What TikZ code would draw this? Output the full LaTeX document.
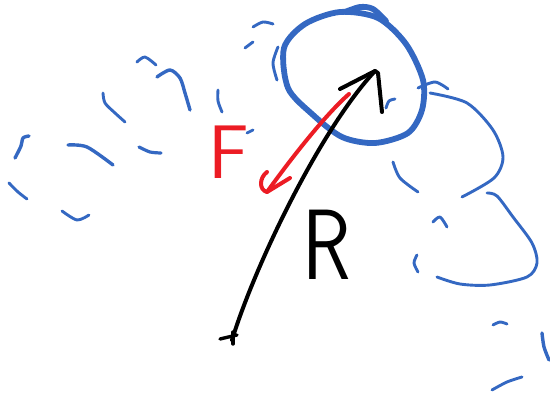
\documentclass[tikz,border=0pt]{standalone}
\usepackage{fontspec}
\definecolor{skblue}{RGB}{52,104,194}
\definecolor{skred}{RGB}{236,28,36}
\begin{document}
\begin{tikzpicture}[x=1pt,y=-1pt,
  bl/.style={draw=skblue,line width=2.9pt,line cap=round,line join=round},
  blthick/.style={bl,line width=5.8pt},
  rd/.style={draw=skred,line width=4pt,line cap=round,line join=round},
  bk/.style={draw=black,line width=4pt,line cap=round,line join=round},
  lettr/.style={inner sep=0pt,font=\sffamily\fontsize{#1}{#1}\selectfont}]
\useasboundingbox (0,0) rectangle (550,395);
% ---- scattered blue strokes (left cloud)
\draw[bl] plot[smooth] coordinates {(253,27) (263,22) (273,24)};
\draw[bl] (245,48) -- (253,42);
\draw[bl] plot[smooth] coordinates {(278,47) (273,63) (277,80)};
\draw[bl] plot[smooth] coordinates {(137,62) (145,57) (156,65)};
\draw[bl,line width=3.4pt] plot[smooth] coordinates {(157,77) (170,70) (180,78) (185,93) (190,110)};
\draw[bl] plot[smooth] coordinates {(218,90) (218,101) (222,112)};
\draw[bl] plot[smooth] coordinates {(103,93) (105,103) (115,113) (125,122)};
\draw[bl,line width=3.4pt] plot[smooth] coordinates {(68,145) (87,147) (113,165)};
\draw[bl,line width=3.2pt] plot[smooth] coordinates {(139,147) (150,152) (161,153)};
\draw[bl,line width=3.4pt] plot[smooth] coordinates {(15,158) (21,146) (23,138) (29,136)};
\draw[bl] plot[smooth] coordinates {(9,183) (18,192) (27,199)};
\draw[bl] plot[smooth] coordinates {(62,211) (77,220) (89,215)};
\draw[bl] (247,133) -- (253,130);
% ---- big circle
\draw[blthick] plot[smooth cycle] coordinates {(284,48) (305,24) (340,12) (378,18) (406,44) (423,80) (422,110) (408,133) (375,143) (342,137) (312,114) (288,88)};
\draw[blthick] plot[smooth] coordinates {(345,12) (360,7) (373,9) (386,21)};
\draw[bl] plot[smooth] coordinates {(386,108) (389,101) (395,99)};
% ---- right cloud
\draw[bl] plot[smooth] coordinates {(418,88) (435,82) (448,89)};
\draw[bl] plot[smooth] coordinates {(430,93) (467,103) (493,130) (503,157) (494,178) (462,197)};
\draw[bl] plot[smooth] coordinates {(393,162) (400,178) (418,192)};
\draw[bl] plot[smooth] coordinates {(487,193) (497,196) (513,217) (532,243) (537,263) (527,277) (490,285) (460,284) (437,277)};
\draw[bl] plot[smooth] coordinates {(433,222) (440,217) (447,227)};
\draw[bl] plot[smooth] coordinates {(417,255) (414,263) (418,272)};
\draw[bl] plot[smooth] coordinates {(493,325) (500,322) (507,324)};
\draw[bl,line width=3.4pt] plot[smooth] coordinates {(542,333) (544,347) (549,360)};
\draw[bl] plot[smooth] coordinates {(492,390) (507,382) (522,377)};
% ---- black radius arrow
\coordinate (tail) at (232,340);
\coordinate (tip) at (375,71);
\draw[bk] (tail) .. controls (255,265) and (320,130) .. (tip);
\draw[bk] (340,89) -- (tip) -- (378,73) -- (382,112);
\draw[bk,line width=3.4pt] (220,339) -- (237,335);
\draw[bk,line width=3.4pt] (233,332) -- (233,344);
% ---- red force arrow
\coordinate (rs) at (349,94);
\coordinate (re) at (267,192);
\draw[rd] (rs) .. controls (325,115) and (290,160) .. (re);
\draw[rd] (267,172) .. controls (259,178) and (259,190) .. (re) -- (290,178);
% ---- labels
\node[lettr=76,text=skred] (F) at (229,152) {F};
\node[lettr=100,xscale=0.8] (R) at (327,245) {R};
\end{tikzpicture}
\end{document}
